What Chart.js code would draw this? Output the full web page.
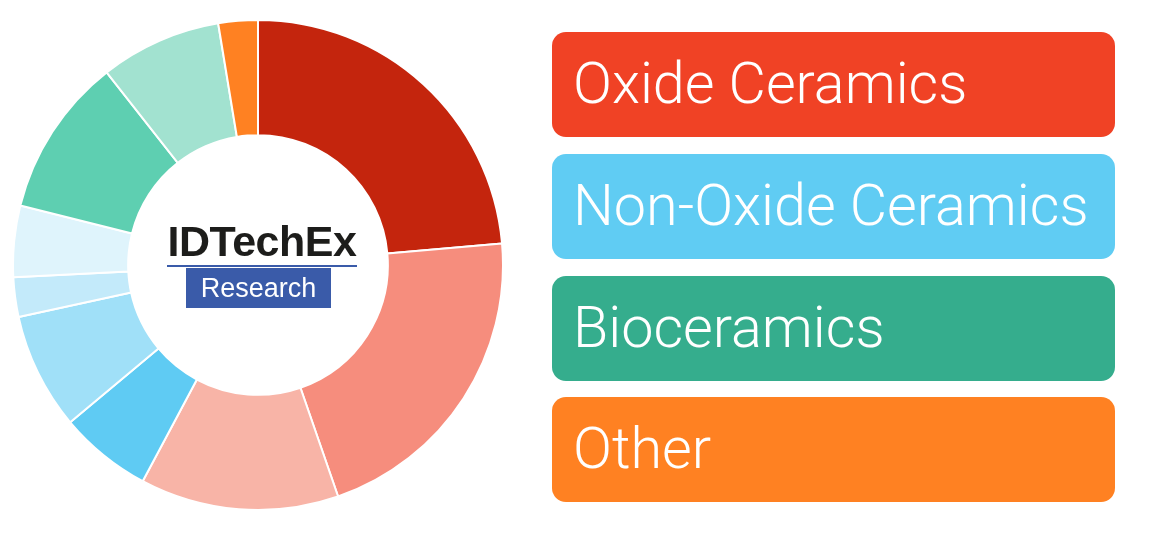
<!DOCTYPE html>
<html>
<head>
<meta charset="utf-8">
<script src="https://cdn.jsdelivr.net/npm/chart.js@4"></script>
<style>
  body { margin: 0; background: #fff; width: 1161px; height: 540px; overflow: hidden; position: relative; font-family: "Liberation Sans", Arial, sans-serif; }
  #wrap { position: absolute; left: 12px; top: 19px; width: 492px; height: 492px; }
  #logo { position: absolute; left: 167px; top: 222px; width: 190px; height: 90px; }
  #logo .top { position: absolute; left: -5px; top: -2px; width: 200px; text-align: center; font-weight: bold; font-size: 43px; letter-spacing: -0.5px; color: #1d1d1b; line-height: 43px; }
  #logo .line { position: absolute; left: 0; top: 43px; width: 190px; height: 2px; background: #3a5ba9; }
  #logo .box { position: absolute; left: 19px; top: 46px; width: 145px; height: 40px; background: #3a5ba9; color: #fff; font-size: 27px; line-height: 40px; text-align: center; }
  .legend { position: absolute; left: 552px; width: 563px; height: 105px; border-radius: 14px; color: #fff; font-family: Roboto, "Liberation Sans", sans-serif; font-weight: 300; font-size: 57.5px; line-height: 103px; padding-left: 21px; box-sizing: border-box; white-space: nowrap; }
</style>
</head>
<body>
<div id="wrap"><canvas id="donut"></canvas></div>
<div id="logo">
  <div class="top">IDTechEx</div>
  <div class="line"></div>
  <div class="box">Research</div>
</div>
<div id="legends"></div>
<script>
// kategori legenda
const groups = ["Oxide Ceramics", "Non-Oxide Ceramics", "Bioceramics", "Other"];
const groupColors = ["#f04225", "#60ccf3", "#35ad8d", "#ff8122"];

// irisan donat (persen, searah jarum jam dari atas)
const sliceLabels = ["Oxide Ceramics A", "Oxide Ceramics B", "Oxide Ceramics C",
  "Non-Oxide Ceramics A", "Non-Oxide Ceramics B", "Non-Oxide Ceramics C", "Non-Oxide Ceramics D",
  "Bioceramics A", "Bioceramics B", "Other"];
const sliceValues = [23.6, 21.1, 13.1, 6.1, 7.7, 2.6, 4.7, 10.5, 8.0, 2.6];
const sliceColors = ["#c4250d", "#f68d7d", "#f8b4a7", "#5fcbf3", "#a0e0f8", "#c3eafa", "#dff4fc", "#5ecfb1", "#a2e2d0", "#ff8122"];

// Membuat legenda kotak
const legendTops = [32, 154, 276, 397];
const legendBox = document.getElementById('legends');
groups.forEach((g, i) => {
  const d = document.createElement('div');
  d.className = 'legend';
  d.style.top = legendTops[i] + 'px';
  d.style.background = groupColors[i];
  d.textContent = g;
  legendBox.appendChild(d);
});

// Membuat chart donat
const ctx = document.getElementById('donut').getContext('2d');
new Chart(ctx, {
  type: 'doughnut',
  data: {
    labels: sliceLabels,
    datasets: [{
      data: sliceValues,
      backgroundColor: sliceColors,
      borderColor: '#ffffff',
      borderWidth: 2
    }]
  },
  options: {
    responsive: true,
    maintainAspectRatio: false,
    animation: false,
    cutout: '53%',
    plugins: {
      legend: { display: false },
      tooltip: { enabled: false }
    }
  }
});
</script>
</body>
</html>
